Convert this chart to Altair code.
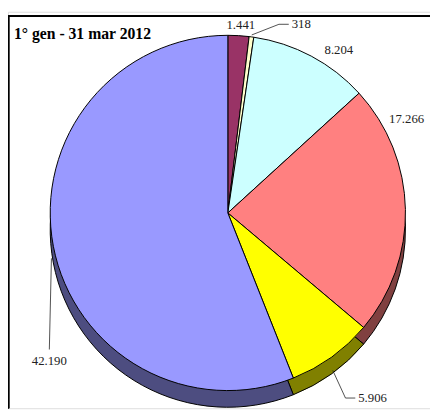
import altair as alt
import pandas as pd

# ---- data ----
categories = ["s1", "s2", "s3", "s4", "s5", "s6"]
values = [1441, 318, 8204, 17266, 5906, 42190]
value_labels = ["1.441", "318", "8.204", "17.266", "5.906", "42.190"]

# ---- styles ----
top_colors = ["#993366", "#FFFFCC", "#CCFFFF", "#FF8080", "#FFFF00", "#9999FF"]
side_colors = ["#4D1A33", "#808066", "#668080", "#804040", "#808000", "#4D4D80"]

# label placement (angular nudge in degrees from slice middle, distance from centre)
label_nudge = [0.5, 10.25, 6.25, -26.7, 1.2, -26.6]
label_dist = [192, 202, 201, 206, 229, 229]
label_kind = ["plain", "right", "plain", "plain", "right", "below"]

W, H = 430, 404
CX, CY = 224, 205
R = 181
DEPTH = 17
FONT = "Liberation Serif"

df = pd.DataFrame({
    "cat": categories,
    "value": values,
    "label": value_labels,
    "order": list(range(len(values))),
    "nudge": label_nudge,
    "dist": label_dist,
    "kind": label_kind,
})

color_top = alt.Color("cat:N", scale=alt.Scale(domain=categories, range=top_colors), legend=None)
color_side = alt.Color("cat:N", scale=alt.Scale(domain=categories, range=side_colors), legend=None)

base = alt.Chart(df)

side = base.mark_arc(outerRadius=R, stroke="black", strokeWidth=1).encode(
    theta=alt.Theta("value:Q", stack=True),
    order=alt.Order("order:Q"),
    color=color_side,
    x=alt.value(CX),
    y=alt.value(CY + DEPTH),
)

top = base.mark_arc(outerRadius=R, stroke="black", strokeWidth=1).encode(
    theta=alt.Theta("value:Q", stack=True),
    order=alt.Order("order:Q"),
    color=color_top,
    x=alt.value(CX),
    y=alt.value(CY),
)

pos = base.transform_joinaggregate(total="sum(value)").transform_window(
    cum="sum(value)", sort=[alt.SortField("order")], frame=[None, 0]
).transform_calculate(
    mid="PI*(2*datum.cum - datum.value)/datum.total",
).transform_calculate(
    la="datum.mid + datum.nudge*PI/180",
).transform_calculate(
    lx=f"{CX} + datum.dist*sin(datum.la)",
    ly=f"{CY} - datum.dist*cos(datum.la)",
    sx=f"{CX} + {R + 2}*sin(datum.mid)",
    sy=f"{CY} - {R + 2}*cos(datum.mid) + (cos(datum.mid) < 0 ? {DEPTH * 0.7} : 0)",
).transform_calculate(
    ex="datum.kind == 'right' ? datum.lx - 10 : datum.lx",
    ey="datum.ly",
)

px = lambda f: alt.X(f, type="quantitative", scale=None, axis=None)
py = lambda f: alt.Y(f, type="quantitative", scale=None, axis=None)

lead1 = pos.transform_filter("datum.kind != 'plain'").mark_rule(color="#222", strokeWidth=0.8).encode(
    x=px("sx"), y=py("sy"), x2="ex:Q", y2="ey:Q"
)
lead2 = pos.transform_filter("datum.kind == 'right'").mark_rule(color="#222", strokeWidth=0.8).encode(
    x=px("ex"), y=py("ey"), x2="lx:Q", y2="ly:Q"
)

txt_plain = pos.transform_filter("datum.kind == 'plain'").mark_text(
    font=FONT, fontSize=13, color="#222", align="center", baseline="middle"
).encode(x=px("lx"), y=py("ly"), text="label:N")

txt_right = pos.transform_filter("datum.kind == 'right'").mark_text(
    font=FONT, fontSize=13, color="#222", align="left", baseline="middle", dx=3
).encode(x=px("lx"), y=py("ly"), text="label:N")

txt_below = pos.transform_filter("datum.kind == 'below'").mark_text(
    font=FONT, fontSize=13, color="#222", align="center", baseline="top", dy=6
).encode(x=px("lx"), y=py("ly"), text="label:N")

frame_top = alt.Chart(df).mark_rule(color="black", strokeWidth=1.2).encode(
    x=alt.value(0), x2=alt.value(W), y=alt.value(4.5)
)
frame_left = alt.Chart(df).mark_rule(color="black", strokeWidth=1.2).encode(
    x=alt.value(0.6), y=alt.value(4.5), y2=alt.value(H)
)

title = alt.Chart(df).transform_filter("datum.order == 0").mark_text(
    text="1° gen - 31 mar 2012", font=FONT, fontSize=16, fontWeight="bold",
    color="black", align="left", baseline="alphabetic"
).encode(x=alt.value(6), y=alt.value(28))

chart = alt.layer(
    side, top, lead1, lead2, txt_plain, txt_right, txt_below, frame_top, frame_left, title
).resolve_scale(color="independent").properties(
    width=W, height=H, padding=0,
    autosize=alt.AutoSizeParams(type="none"),
).configure_view(stroke=None).configure(background="white")

chart.save("out.html", embed_options={"renderer": "svg", "actions": False})
